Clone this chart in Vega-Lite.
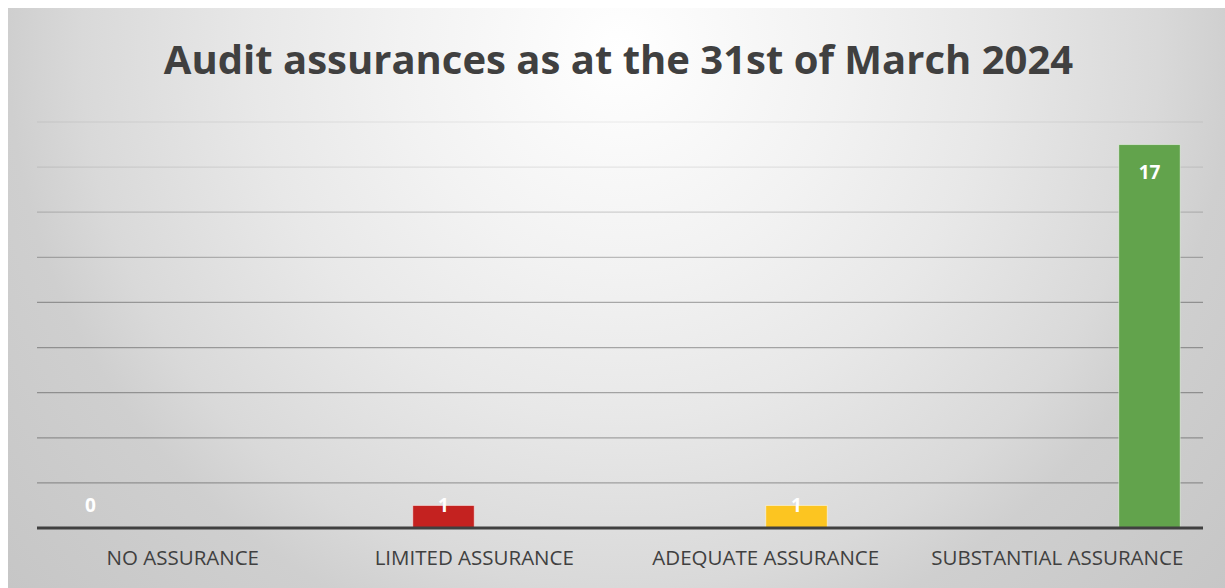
{
  "$schema": "https://vega.github.io/schema/vega-lite/v6.json",
  "width": 1217,
  "height": 580,
  "autosize": {"type": "none"},
  "padding": {"left": 8, "top": 8, "right": 0, "bottom": 0},
  "background": "#ffffff",
  "view": {
    "stroke": null,
    "fill": {
      "gradient": "radial",
      "x1": 0.503, "y1": 0.296, "r1": 0,
      "x2": 0.503, "y2": 0.296, "r2": 0.67,
      "stops": [
        {"offset": 0, "color": "#ffffff"},
        {"offset": 0.27, "color": "#f2f2f2"},
        {"offset": 0.45, "color": "#e8e8e8"},
        {"offset": 0.66, "color": "#d9d9d9"},
        {"offset": 0.75, "color": "#cfcfcf"},
        {"offset": 1, "color": "#c6c6c6"}
      ]
    }
  },
  "title": {
    "text": "Audit assurances as at the 31st of March 2024",
    "font": "Open Sans",
    "fontSize": 40,
    "fontWeight": "bold",
    "color": "#404040",
    "anchor": "middle",
    "frame": "group",
    "offset": -106,
    "baseline": "alphabetic",
    "dx": 2
  },
  "datasets": {
    "bars": [
      {"category": "NO ASSURANCE", "value": 0},
      {"category": "LIMITED ASSURANCE", "value": 1},
      {"category": "ADEQUATE ASSURANCE", "value": 1},
      {"category": "SUBSTANTIAL ASSURANCE", "value": 17}
    ],
    "grid": [
      {"tick": 2}, {"tick": 4}, {"tick": 6}, {"tick": 8}, {"tick": 10},
      {"tick": 12}, {"tick": 14}, {"tick": 16}, {"tick": 18}
    ]
  },
  "layer": [
    {
      "data": {"name": "grid"},
      "mark": {"type": "rule", "color": "#000000", "strokeWidth": 1.3},
      "encoding": {
        "y": {"field": "tick", "type": "quantitative", "scale": {"domain": [-2.66, 23.054], "nice": false, "zero": false}, "axis": null},
        "x": {"datum": "NO ASSURANCE", "type": "nominal", "bandPosition": -0.0925,
              "scale": {"domain": ["NO ASSURANCE", "LIMITED ASSURANCE", "ADEQUATE ASSURANCE", "SUBSTANTIAL ASSURANCE"], "paddingInner": 0.15609, "paddingOuter": 0.16555, "align": 0.5363}},
        "x2": {"datum": "SUBSTANTIAL ASSURANCE", "bandPosition": 1.0925},
        "strokeOpacity": {"field": "tick", "type": "quantitative", "scale": {"domain": [2, 10, 12, 16, 18], "range": [0.3, 0.3, 0.23, 0.08, 0.05]}, "legend": null}
      }
    },
    {
      "data": {"name": "bars"},
      "mark": {"type": "bar", "stroke": "#ffffff", "strokeOpacity": 0.5, "strokeWidth": 1},
      "encoding": {
        "x": {"field": "category", "type": "nominal", "sort": null,
              "axis": {"title": null, "domain": false, "ticks": false, "grid": false, "labelAngle": 0, "labelAlign": "center", "bandPosition": 0.5, "labelLimit": 0, "labelFont": "Open Sans", "labelFontSize": 20.5, "labelColor": "#404040", "offset": -60, "labelPadding": 30, "labelBaseline": "middle"}},
        "xOffset": {"field": "category", "type": "nominal", "sort": null,
                    "scale": {"domain": ["NO ASSURANCE", "LIMITED ASSURANCE", "ADEQUATE ASSURANCE", "SUBSTANTIAL ASSURANCE"], "paddingInner": 0, "paddingOuter": 0}},
        "y": {"field": "value", "type": "quantitative"},
        "color": {"field": "category", "type": "nominal", "legend": null,
                  "scale": {"domain": ["NO ASSURANCE", "LIMITED ASSURANCE", "ADEQUATE ASSURANCE", "SUBSTANTIAL ASSURANCE"], "range": ["#7f7f7f", "#c42220", "#fcc521", "#62a34c"]}}
      }
    },
    {
      "data": {"values": [{}]},
      "mark": {"type": "rule", "color": "#404040", "strokeWidth": 3},
      "encoding": {
        "y": {"datum": 0, "type": "quantitative"},
        "x": {"datum": "NO ASSURANCE", "type": "nominal", "bandPosition": -0.0925},
        "x2": {"datum": "SUBSTANTIAL ASSURANCE", "bandPosition": 1.0925}
      }
    },
    {
      "data": {"name": "bars"},
      "transform": [{"filter": "datum.value >= 2"}],
      "mark": {"type": "text", "font": "Open Sans", "fontSize": 19, "fontWeight": "bold", "color": "#ffffff", "baseline": "alphabetic", "dy": 34.5},
      "encoding": {
        "x": {"field": "category", "type": "nominal", "sort": null},
        "xOffset": {"field": "category", "type": "nominal", "sort": null},
        "y": {"field": "value", "type": "quantitative"},
        "text": {"field": "value", "type": "quantitative"}
      }
    },
    {
      "data": {"name": "bars"},
      "transform": [{"filter": "datum.value < 2"}],
      "mark": {"type": "text", "font": "Open Sans", "fontSize": 19, "fontWeight": "bold", "color": "#ffffff", "baseline": "alphabetic", "dy": -16},
      "encoding": {
        "x": {"field": "category", "type": "nominal", "sort": null},
        "xOffset": {"field": "category", "type": "nominal", "sort": null},
        "y": {"datum": 0, "type": "quantitative"},
        "text": {"field": "value", "type": "quantitative"}
      }
    }
  ]
}
